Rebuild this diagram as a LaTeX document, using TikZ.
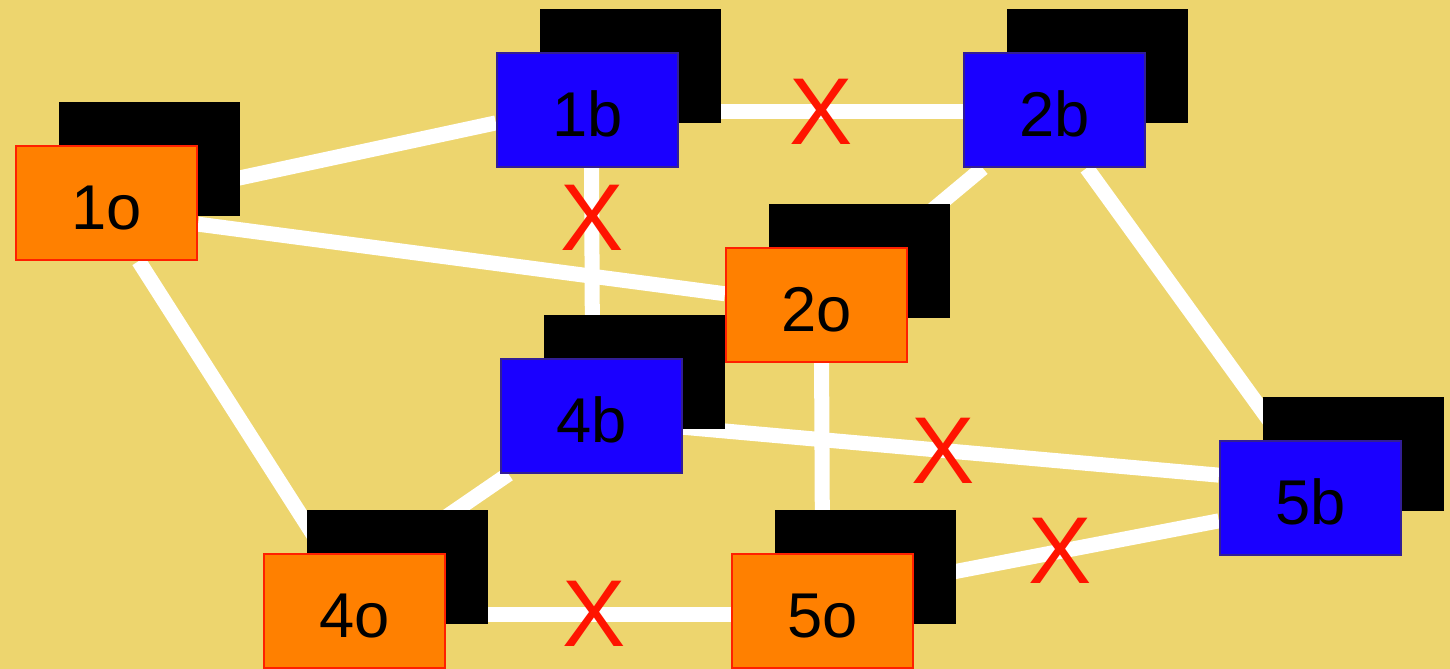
\documentclass[tikz,border=0pt]{standalone}
\usepackage{fontspec}
\setmainfont{Liberation Sans}
\usetikzlibrary{shadows}
\definecolor{sand}{RGB}{237,213,110}
\definecolor{boxorange}{RGB}{255,128,0}
\definecolor{boxred}{RGB}{255,32,0}
\definecolor{boxblue}{RGB}{26,0,255}
\definecolor{boxrim}{RGB}{50,30,150}
\definecolor{crossred}{RGB}{255,20,0}
\pgfdeclarelayer{back}
\pgfdeclarelayer{links}
\pgfsetlayers{back,links,main}

\begin{document}
\begin{tikzpicture}[x=0.01cm, y=-0.01cm,
  site/.style={rectangle, minimum width=1.81cm, minimum height=1.14cm,
    inner sep=0pt, line width=0.6pt, text height=0.54cm,
    font=\fontsize{18}{18}\selectfont,
    drop shadow={shadow xshift=0.43cm, shadow yshift=0.44cm, fill=black, opacity=1}},
  osite/.style={site, fill=boxorange, draw=boxred},
  bsite/.style={site, fill=boxblue, draw=boxrim},
  link/.style={white, line width=0.15cm},
  cut/.style={text=crossred, font=\fontsize{27}{27}\selectfont, inner sep=0pt}]
  \useasboundingbox (0,0) rectangle (1450,669);
  \begin{pgfonlayer}{back}
    \fill[sand] (0,0) rectangle (1450,669);
  \end{pgfonlayer}

  % Boxes (manual placement)
  \node[osite] (o1) at (106.5,203) {1o};
  \node[bsite] (b1) at (587.5,110) {1b};
  \node[bsite] (b2) at (1054.5,110) {2b};
  \node[bsite] (b4) at (591.5,416) {4b};
  \node[osite] (o2) at (816.5,305) {2o};
  \node[osite] (o4) at (354.5,611) {4o};
  \node[osite] (o5) at (822.5,611) {5o};
  \node[bsite] (b5) at (1310.5,498) {5b};

  % Links, behind the boxes
  \begin{pgfonlayer}{links}
    \draw[link] (o1.10) -- (b1.188);
    \draw[link] (o1.347) -- (o2.173);
    \draw[link] (o1.299) -- (o4.117);
    \draw[link] (b1.274) -- node[cut, pos=0.26] (x1) {X} (b4.89);
    \draw[link] (b1.359) -- node[cut, pos=0.5] (x2) {X} (b2.181);
    \draw[link] (b2.219) -- (o2.39);
    \draw[link] (b2.299) -- (b5.115);
    \draw[link] (o2.275) -- (o5.90);
    \draw[link] (b4.353) -- node[cut, pos=0.485] (x3) {X} (b5.166);
    \draw[link] (b4.215) -- (o4.56);
    \draw[link] (o4.358) -- node[cut, pos=0.52] (x4) {X} (o5.182);
    \draw[link] (o5.19) -- node[cut, pos=0.48] (x5) {X} (b5.194);
  \end{pgfonlayer}
\end{tikzpicture}
\end{document}
